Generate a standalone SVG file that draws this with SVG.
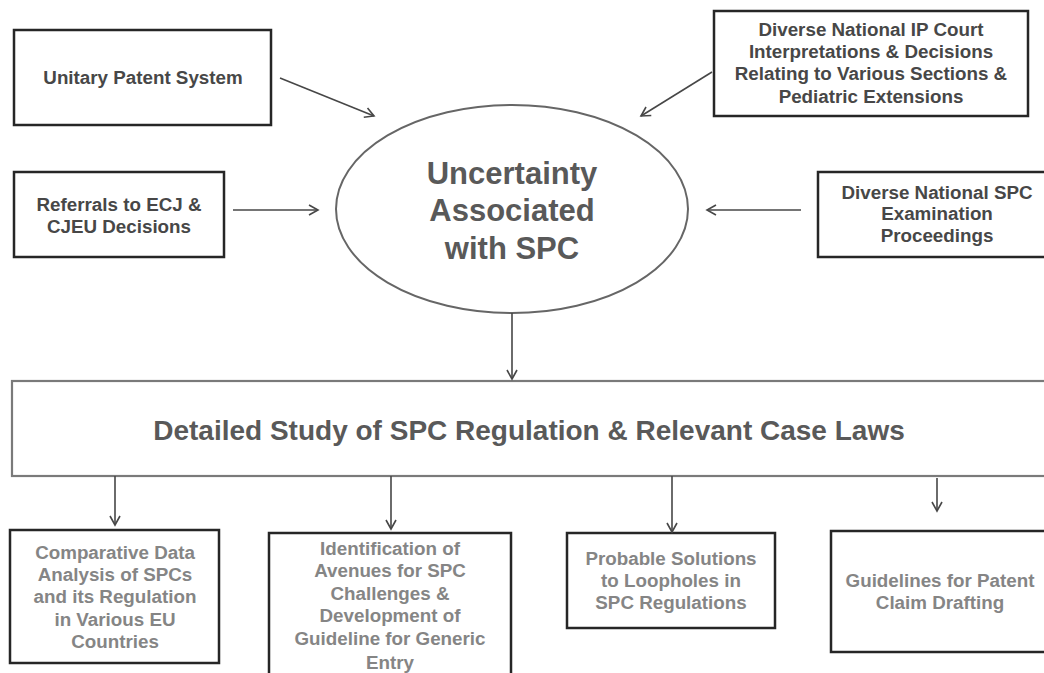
<svg xmlns="http://www.w3.org/2000/svg" width="1044" height="673" viewBox="0 0 1044 673">
<style>
.box{fill:#fff;stroke:#262626;stroke-width:2.5}
.mbox{fill:#fff;stroke:#7a7a7a;stroke-width:2.2}
.t{font-family:"Liberation Sans",Arial,sans-serif;font-weight:bold;text-anchor:middle}
.top{font-size:18.8px;fill:#474747}
.bot{font-size:18.8px;fill:#858585}
.big{font-size:31px;fill:#595959}
.mid{font-size:28px;fill:#595959}
.c{stroke:#474747;stroke-width:1.6;fill:none;marker-end:url(#ah)}
</style>
<defs>
<marker id="ah" markerUnits="userSpaceOnUse" markerWidth="12" markerHeight="12" refX="10" refY="6" orient="auto">
<path d="M1,1 L10,6 L1,11" fill="none" stroke="#474747" stroke-width="1.6"/>
</marker>
</defs>
<rect width="1044" height="673" fill="#fff"/>
<g id="n-unitary"><rect class="box" x="14" y="30" width="257" height="95"/><text class="t top" x="143" y="84">Unitary Patent System</text></g>
<g id="n-referrals"><rect class="box" x="14" y="172" width="210" height="85"/><text class="t top" x="119" y="211">Referrals to ECJ &amp;</text><text class="t top" x="119" y="233">CJEU Decisions</text></g>
<g id="n-ipcourt"><rect class="box" x="714" y="11" width="314" height="105"/><text class="t top" x="871" y="36">Diverse National IP Court</text><text class="t top" x="871" y="58">Interpretations &amp; Decisions</text><text class="t top" x="871" y="80">Relating to Various Sections  &amp;</text><text class="t top" x="871" y="103">Pediatric Extensions</text></g>
<g id="n-exam"><rect class="box" x="818" y="172" width="240" height="85"/><text class="t top" x="937" y="199">Diverse National SPC</text><text class="t top" x="937" y="220">Examination</text><text class="t top" x="937" y="242">Proceedings</text></g>
<g id="n-uncertainty"><ellipse cx="512" cy="209" rx="176" ry="104" fill="#fff" stroke="#666" stroke-width="2"/><text class="t big" x="512" y="184">Uncertainty</text><text class="t big" x="512" y="221">Associated</text><text class="t big" x="512" y="259">with SPC</text></g>
<g id="n-study"><rect class="mbox" x="12" y="381" width="1040" height="95"/><text class="t mid" x="529" y="440">Detailed Study of SPC Regulation &amp; Relevant Case Laws</text></g>
<g id="n-comparative"><rect class="box" x="10" y="530" width="209" height="133"/><text class="t bot" x="115" y="559">Comparative Data</text><text class="t bot" x="115" y="581">Analysis of SPCs</text><text class="t bot" x="115" y="603">and its Regulation</text><text class="t bot" x="115" y="626">in Various EU</text><text class="t bot" x="115" y="648">Countries</text></g>
<g id="n-avenues"><rect class="box" x="269" y="533" width="242" height="150"/><text class="t bot" x="390" y="555">Identification of</text><text class="t bot" x="390" y="577">Avenues for SPC</text><text class="t bot" x="390" y="600">Challenges &amp;</text><text class="t bot" x="390" y="622">Development of</text><text class="t bot" x="390" y="645">Guideline for Generic</text><text class="t bot" x="390" y="669">Entry</text></g>
<g id="n-solutions"><rect class="box" x="567" y="533" width="208" height="95"/><text class="t bot" x="671" y="565">Probable Solutions</text><text class="t bot" x="671" y="587">to Loopholes in</text><text class="t bot" x="671" y="609">SPC Regulations</text></g>
<g id="n-guidelines"><rect class="box" x="831" y="531" width="220" height="121"/><text class="t bot" x="940" y="587">Guidelines for Patent</text><text class="t bot" x="940" y="609">Claim Drafting</text></g>
<g id="connectors">
<line class="c" x1="280" y1="78" x2="374" y2="116"/>
<line class="c" x1="712" y1="72" x2="641" y2="116"/>
<line class="c" x1="233" y1="210" x2="318" y2="210"/>
<line class="c" x1="801" y1="210" x2="707" y2="210"/>
<line class="c" x1="512" y1="313" x2="512" y2="379"/>
<line class="c" x1="115" y1="476" x2="115" y2="525"/>
<line class="c" x1="391" y1="476" x2="391" y2="529"/>
<line class="c" x1="672" y1="476" x2="672" y2="532"/>
<line class="c" x1="937" y1="478" x2="937" y2="511"/>
</g>
</svg>
